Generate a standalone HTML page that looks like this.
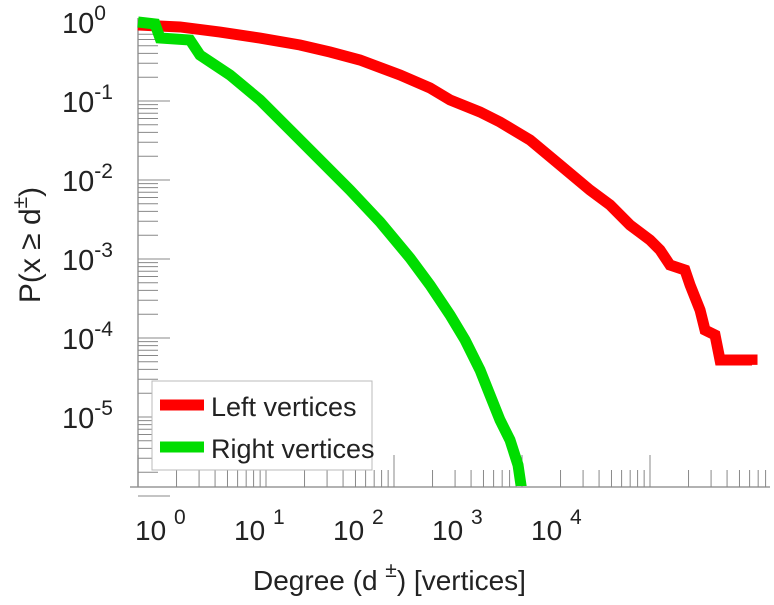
<!DOCTYPE html>
<html><head><meta charset="utf-8"><style>
body{margin:0;background:#fff}
svg text{font-family:"Liberation Sans",sans-serif;fill:#222}
</style></head><body>
<svg width="774" height="600">
<defs><clipPath id="pc"><rect x="132" y="15" width="642" height="471"/></clipPath></defs>
<g id="axes"></g>
<g id="series" clip-path="url(#pc)"></g>
<g id="legend">
<rect x="152" y="381" width="220" height="89" fill="#fff" stroke="#bbb"/>
<line x1="160" y1="405" x2="204" y2="405" stroke="#f00" stroke-width="11"/>
<text x="211" y="416" font-size="27">Left vertices</text>
<line x1="160" y1="447" x2="204" y2="447" stroke="#0d0" stroke-width="11"/>
<text x="211" y="458" font-size="27">Right vertices</text>
</g>
<text transform="translate(40,245) rotate(-90)" font-size="30" text-anchor="middle">P(x  ≥  d<tspan dy="-13" font-size="21">±</tspan><tspan dy="13">)</tspan></text>
<text x="253" y="590" font-size="28">Degree (d  <tspan dy="-13" font-size="21">±</tspan><tspan dy="13">) [vertices]</tspan></text>
</svg>
<script>
const redLogDeg=[0,.328,.641,.953,1.266,1.5,1.734,2.047,2.281,2.438,2.672,2.828,3.063,3.297,3.531,3.688,3.844,4.0,4.078,4.156,4.273,4.313,4.391,4.430,4.508,4.547,4.797,4.797];
const redLogP=[-.038,-.063,-.127,-.203,-.291,-.380,-.481,-.671,-.835,-.987,-1.139,-1.266,-1.494,-1.810,-2.127,-2.316,-2.57,-2.76,-2.886,-3.076,-3.139,-3.329,-3.646,-3.899,-3.962,-4.278,-4.278,-4.34];
const greenLogDeg=[0,.133,.172,.406,.484,.719,.953,1.188,1.422,1.656,1.891,2.125,2.281,2.438,2.555,2.672,2.75,2.828,2.906,2.969,3.0];
const greenLogP=[0,-.025,-.203,-.228,-.418,-.671,-.987,-1.367,-1.747,-2.127,-2.532,-2.987,-3.329,-3.709,-4.025,-4.405,-4.722,-5.038,-5.291,-5.608,-5.95];
const yTicks=[0,-1,-2,-3,-4,-5];
const xTickLabels=[0,1,2,3,4];
const NS='http://www.w3.org/2000/svg';
function X(l){return 138+128*l;}
function Y(l){return 22-79*l;}
function mk(t,a,parent){const e=document.createElementNS(NS,t);for(const k in a)e.setAttribute(k,a[k]);parent.appendChild(e);return e;}
const axes=document.getElementById('axes'),ser=document.getElementById('series');
const yl=mk('line',{x1:138,y1:18,x2:138,y2:487,stroke:'#999','stroke-width':1.5},axes);


const xl=mk('line',{x1:130,y1:487,x2:770,y2:487,stroke:'#999','stroke-width':1.5},axes);


yTicks.forEach(e=>{
  const y=Y(e);
  const t=mk('text',{x:62,y:y+11,'font-size':29},axes);
  t.innerHTML='10<tspan dy="-13" font-size="21">'+e+'</tspan>';
  
  
  for(let m=1;m<=9;m++){
    const yy=Y(e-1+Math.log10(m)); const len=m==1?32:20;
    const tk=mk('line',{x1:138,y1:yy,x2:138+len,y2:yy,stroke:'#888','stroke-width':1},axes);
    
    
  }
});
xTickLabels.forEach((e,i)=>{
  const x=152+99*i;
  const t=mk('text',{x:x-17,y:540,'font-size':28},axes);
  t.innerHTML='10 <tspan dy="-16" font-size="21">'+e+'</tspan>';
  
  
});
for(let e=0;e<5;e++)for(let m=1;m<=9;m++){
  const x=X(e+Math.log10(m)); if(x>768)continue;
  const tk=mk('line',{x1:x,y1:487,x2:x,y2:m==1?455:470,stroke:'#888','stroke-width':1},axes);
  
  
}
function line(xs,ys,color,name){
  const pts=xs.map((v,i)=>X(v)+','+Y(ys[i])).join(' ');
  const p=mk('polyline',{points:pts,fill:'none',stroke:color,'stroke-width':11,'stroke-linejoin':'miter'},ser);
  
  
}
line(redLogDeg,redLogP,'#f00','left-vertices-line');
line(greenLogDeg,greenLogP,'#0d0','right-vertices-line');
</script>
</body></html>
